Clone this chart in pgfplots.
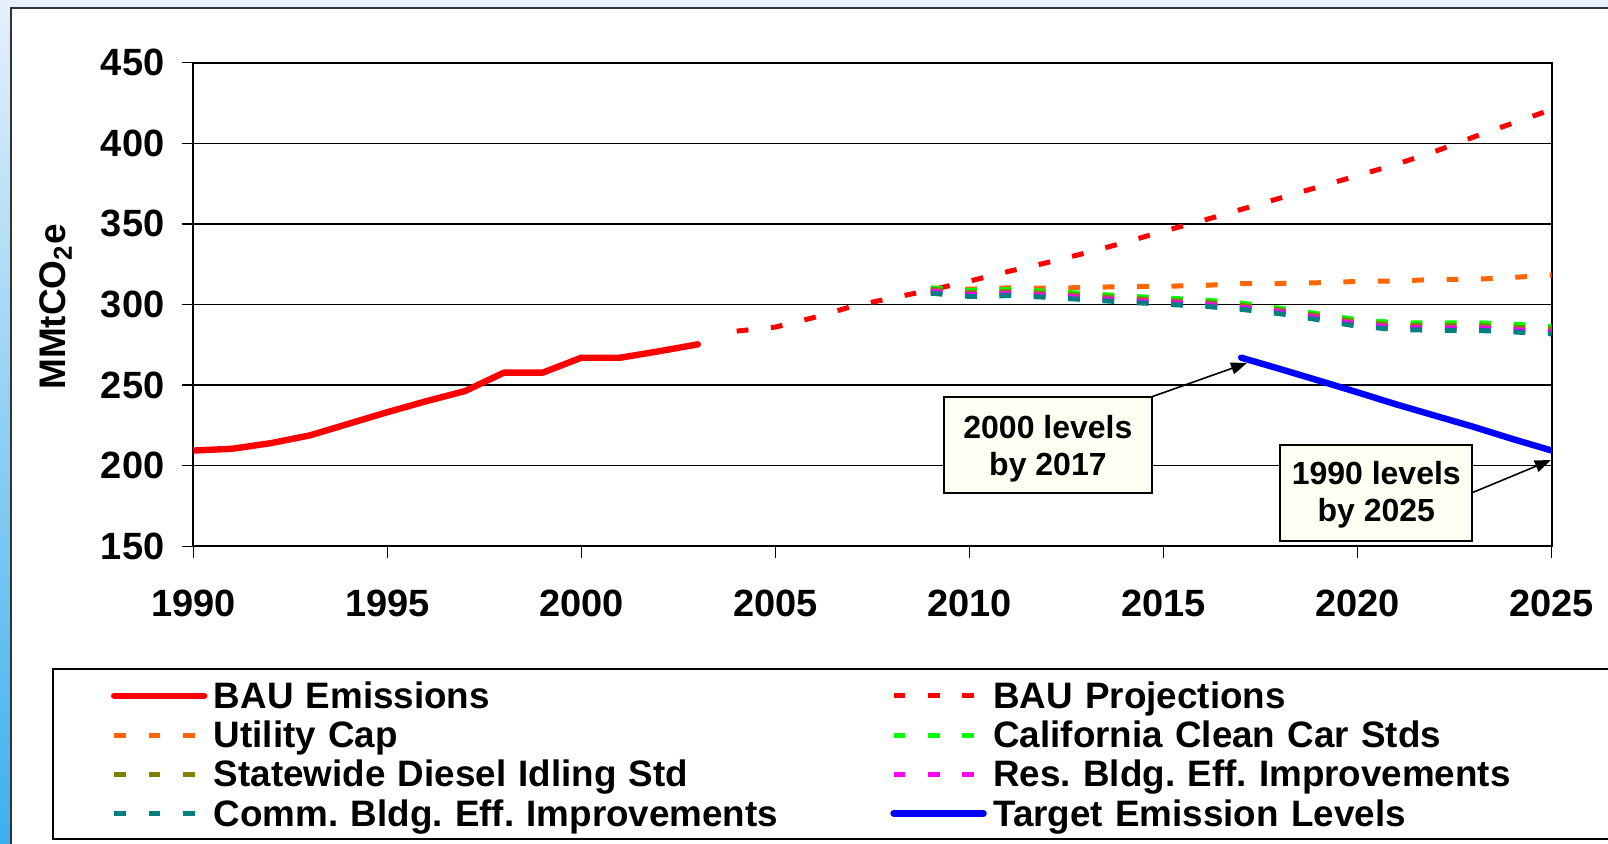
\documentclass[border=0pt]{standalone}
\usepackage{fontspec}
\setmainfont{Liberation Sans}
\usepackage{pgfplots}
\pgfplotsset{compat=1.18}
\usetikzlibrary{arrows.meta}
\definecolor{bgtop}{RGB}{229,240,251}
\definecolor{bgmid}{RGB}{172,213,245}
\definecolor{bgbot}{RGB}{60,176,238}
\definecolor{cOrange}{RGB}{255,102,0}
\definecolor{cGreen}{RGB}{0,255,0}
\definecolor{cOlive}{RGB}{128,128,0}
\definecolor{cMag}{RGB}{255,0,255}
\definecolor{cTeal}{RGB}{0,128,128}
\definecolor{cBlue}{RGB}{0,0,255}
\definecolor{ivory}{RGB}{255,255,244}
\frenchspacing
\begin{document}
\begin{tikzpicture}
\path[use as bounding box] (0,0) rectangle (804pt,421.5pt);
\clip (0,0) rectangle (804pt,421.5pt);
\shade[top color=bgtop, middle color=bgmid, bottom color=bgbot] (0,0) rectangle (804pt,421.5pt);
\draw[line width=1.1pt, draw=black!80, fill=white] (5.5pt,-10pt) rectangle (815pt,417.5pt);
\draw[line width=1pt] (26.25pt,1.85pt) rectangle (815pt,87pt);
\begin{axis}[
  at={(96.65pt,148.35pt)}, anchor=south west,
  scale only axis, width=679.2pt, height=241.8pt,
  xmin=1990, xmax=2025, ymin=150, ymax=450,
  xtick={1990,1995,...,2025}, ytick={150,200,...,450},
  /pgf/number format/1000 sep={},
  /pgf/number format/assume math mode=true,
  tick pos=left, tick align=outside, major tick length=5.8pt,
  tick style={black, line width=0.75pt},
  axis line style={line width=1pt},
  ymajorgrids, major grid style={black, line width=0.75pt},
  ticklabel style={font=\bfseries\fontsize{19}{21}\selectfont},
  yticklabel style={anchor=east, inner sep=0pt, xshift=-8.5pt},
  xticklabel style={anchor=north, inner sep=0pt, yshift=-15.9pt},
  ylabel={MMtCO\textsubscript{2}e},
  ylabel style={at={(rel axis cs:-0.1011,0.4948)}, anchor=center, font=\bfseries\fontsize{18.5}{20}\selectfont},
  legend columns=2,
  legend cell align=left,
  legend style={at={(rel axis cs:-0.0606,-0.2806)}, anchor=north west, draw=none, fill=none,
    inner sep=0pt, outer sep=0pt,
    font=\bfseries\fontsize{18.4}{19.6}\selectfont,
    nodes={inner sep=0pt, text height=13.2pt, text depth=6.4pt, text width=335pt, align=left},
    /tikz/every odd column/.append style={column sep=3.25pt},
    /tikz/every even column/.append style={column sep=3.25pt},
    /tikz/column 3/.append style={column sep=5.25pt}},
  legend image code/.code={\draw[#1, yshift=2.9pt] (0pt,0pt) -- (45pt,0pt);},
]
% BAU Emissions
\addplot[red, line width=3.2pt, line cap=round, line join=round] coordinates {
(1990,209.4) (1991,210.5) (1992,214) (1993,218.8) (1994,226) (1995,233.2) (1996,240)
(1997,246.3) (1998,257.7) (1999,257.7) (2000,267) (2001,267) (2002,271) (2003,275.3)};
\addlegendentry{BAU Emissions}
% BAU Projections
\addplot[red, line width=2.5pt, dash pattern=on 5.9pt off 11.3pt] coordinates {
(2004,283.5) (2005,286) (2006,292) (2007,299) (2008,304) (2009,309) (2010,314.5)
(2011,320.5) (2012,326) (2013,332) (2014,338.5) (2015,345.5) (2016,352) (2017,359)
(2018,366) (2019,373) (2020,380) (2021,387) (2022,395) (2023,404) (2024,412.5) (2025,421)};
\addlegendentry{BAU Projections}
% Utility Cap
\addplot[cOrange, line width=2.5pt, dash pattern=on 5.9pt off 11.3pt] coordinates {
(2009,309) (2010,309.5) (2011,310.3) (2012,310.2) (2013,310.5) (2014,311.2) (2015,311.3)
(2016,311.8) (2017,313) (2018,313) (2019,313.5) (2020,314.3) (2021,314.6) (2022,315.5)
(2023,315.6) (2024,316.8) (2025,318.3)};
\addlegendentry{Utility Cap}
% California Clean Car Stds
\addplot[cGreen, line width=2.5pt, dash pattern=on 5.9pt off 11.3pt] coordinates {
(2009,310.4) (2010,308.7) (2011,309.2) (2012,308.2) (2013,306.8) (2014,305.3) (2015,304)
(2016,302.9) (2017,300.9) (2018,297.6) (2019,294.2) (2020,290.5) (2021,288.7) (2022,288.6)
(2023,288.7) (2024,287.8) (2025,286.4)};
\addlegendentry{California Clean Car Stds}
% Statewide Diesel Idling Std
\addplot[cOlive, line width=2.5pt, dash pattern=on 5.9pt off 11.3pt] coordinates {
(2009,309.4) (2010,307.5) (2011,308) (2012,307) (2013,305.5) (2014,304) (2015,302.7)
(2016,301.5) (2017,299.5) (2018,296.6) (2019,293) (2020,289.2) (2021,287.2) (2022,286.9)
(2023,287) (2024,286) (2025,284.8)};
\addlegendentry{Statewide Diesel Idling Std}
% Res. Bldg. Eff. Improvements
\addplot[cMag, line width=2.5pt, dash pattern=on 5.9pt off 11.3pt] coordinates {
(2009,308.2) (2010,306.2) (2011,306.7) (2012,305.7) (2013,304.2) (2014,302.7) (2015,301.4)
(2016,300.2) (2017,298.2) (2018,295.5) (2019,291.7) (2020,287.8) (2021,285.8) (2022,285.4)
(2023,285.4) (2024,284.4) (2025,283.1)};
\addlegendentry{Res. Bldg. Eff. Improvements}
% Comm. Bldg. Eff. Improvements
\addplot[cTeal, line width=2.5pt, dash pattern=on 5.9pt off 11.3pt] coordinates {
(2009,307) (2010,305) (2011,305.5) (2012,304.5) (2013,303) (2014,301.5) (2015,300.2)
(2016,299) (2017,297) (2018,294.3) (2019,290.5) (2020,286.5) (2021,284.5) (2022,284)
(2023,284) (2024,283) (2025,281.8)};
\addlegendentry{Comm. Bldg. Eff. Improvements}
% Target Emission Levels
\addplot[cBlue, line width=3.2pt, line cap=round, line join=round] coordinates {
(2017,267) (2018,260) (2019,252.8) (2020,245.5) (2021,238) (2022,231) (2023,224) (2024,216.5) (2025,209.4)};
\addlegendentry{Target Emission Levels}
% annotations
\draw[line width=0.8pt, -{Triangle[length=8pt, width=6pt]}] (axis cs:2014.70,242.8) -- (axis cs:2017.15,263.7);
\draw[line width=0.8pt, -{Triangle[length=8pt, width=6pt]}] (axis cs:2022.95,183.25) -- (axis cs:2024.98,203.5);
\node[draw, line width=1pt, fill=ivory, minimum width=104pt, minimum height=48pt, inner sep=0pt] at (axis cs:2012.02,212.8) {};
\node[align=center, inner sep=0pt, yshift=-2pt, font=\bfseries\fontsize{16}{18.5}\selectfont] at (axis cs:2012.02,212.8) {2000 levels\\by 2017};
\node[draw, line width=1pt, fill=ivory, minimum width=96pt, minimum height=47.75pt, inner sep=0pt] at (axis cs:2020.48,183.2) {};
\node[align=center, inner sep=0pt, yshift=-1pt, font=\bfseries\fontsize{16}{18.5}\selectfont] at (axis cs:2020.48,183.2) {1990 levels\\by 2025};
\end{axis}
\end{tikzpicture}
\end{document}
